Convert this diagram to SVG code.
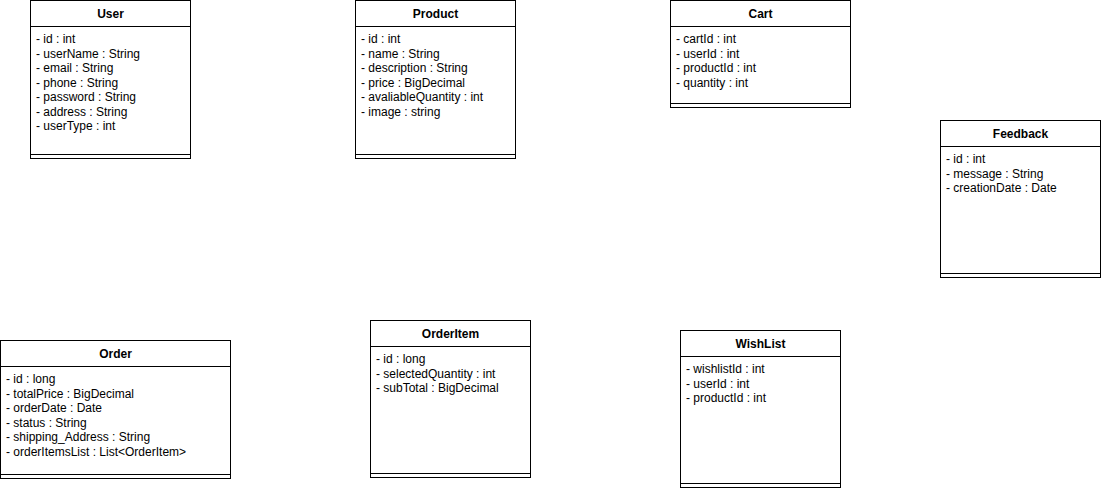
<svg xmlns="http://www.w3.org/2000/svg" width="1101" height="489" viewBox="0 0 1101 489">
<style>
.box{fill:#ffffff;stroke:#000000;stroke-width:1}
.ln{stroke:#000000;stroke-width:1;fill:none}
.t{font-family:"Liberation Sans",Arial,Helvetica,sans-serif;font-size:12px;fill:#000000}
.h{text-anchor:middle;font-weight:bold}
</style>
<rect width="1101" height="489" fill="#ffffff"/>
<g id="connectors"></g>
<g id="User">
<rect class="box" x="30.5" y="0.5" width="160" height="158"/>
<path class="ln" d="M30.5 26.5H190.5M30.5 154.5H190.5"/>
<text class="t h" x="110.5" y="18">User</text>
<text class="t" x="36" y="43">- id : int</text>
<text class="t" x="36" y="57.5">- userName : String</text>
<text class="t" x="36" y="72">- email : String</text>
<text class="t" x="36" y="86.5">- phone : String</text>
<text class="t" x="36" y="101">- password : String</text>
<text class="t" x="36" y="115.5">- address : String</text>
<text class="t" x="36" y="130">- userType : int</text>
</g>
<g id="Product">
<rect class="box" x="355.5" y="0.5" width="160" height="158"/>
<path class="ln" d="M355.5 26.5H515.5M355.5 154.5H515.5"/>
<text class="t h" x="435.5" y="18">Product</text>
<text class="t" x="361" y="43">- id : int</text>
<text class="t" x="361" y="57.5">- name : String</text>
<text class="t" x="361" y="72">- description : String</text>
<text class="t" x="361" y="86.5">- price : BigDecimal</text>
<text class="t" x="361" y="101">- avaliableQuantity : int</text>
<text class="t" x="361" y="115.5">- image : string</text>
</g>
<g id="Cart">
<rect class="box" x="670.5" y="0.5" width="180" height="107"/>
<path class="ln" d="M670.5 26.5H850.5M670.5 103.5H850.5"/>
<text class="t h" x="760.5" y="18">Cart</text>
<text class="t" x="676" y="43">- cartId : int</text>
<text class="t" x="676" y="57.5">- userId : int</text>
<text class="t" x="676" y="72">- productId : int</text>
<text class="t" x="676" y="86.5">- quantity : int</text>
</g>
<g id="Feedback">
<rect class="box" x="940.5" y="120.5" width="160" height="157"/>
<path class="ln" d="M940.5 146.5H1100.5M940.5 273.5H1100.5"/>
<text class="t h" x="1020.5" y="138">Feedback</text>
<text class="t" x="946" y="163">- id : int</text>
<text class="t" x="946" y="177.5">- message : String</text>
<text class="t" x="946" y="192">- creationDate : Date</text>
</g>
<g id="Order">
<rect class="box" x="0.5" y="340.5" width="230" height="138"/>
<path class="ln" d="M0.5 366.5H230.5M0.5 474.5H230.5"/>
<text class="t h" x="115.5" y="358">Order</text>
<text class="t" x="6" y="383">- id : long</text>
<text class="t" x="6" y="397.5">- totalPrice : BigDecimal</text>
<text class="t" x="6" y="412">- orderDate : Date</text>
<text class="t" x="6" y="426.5">- status : String</text>
<text class="t" x="6" y="441">- shipping_Address : String</text>
<text class="t" x="6" y="455.5">- orderItemsList : List&lt;OrderItem&gt;</text>
</g>
<g id="OrderItem">
<rect class="box" x="370.5" y="320.5" width="160" height="157"/>
<path class="ln" d="M370.5 346.5H530.5M370.5 473.5H530.5"/>
<text class="t h" x="450.5" y="338">OrderItem</text>
<text class="t" x="376" y="363">- id : long</text>
<text class="t" x="376" y="377.5">- selectedQuantity : int</text>
<text class="t" x="376" y="392">- subTotal : BigDecimal</text>
</g>
<g id="WishList">
<rect class="box" x="680.5" y="330.5" width="160" height="157"/>
<path class="ln" d="M680.5 356.5H840.5M680.5 483.5H840.5"/>
<text class="t h" x="760.5" y="348">WishList</text>
<text class="t" x="686" y="373">- wishlistId : int</text>
<text class="t" x="686" y="387.5">- userId : int</text>
<text class="t" x="686" y="402">- productId : int</text>
</g>
</svg>
